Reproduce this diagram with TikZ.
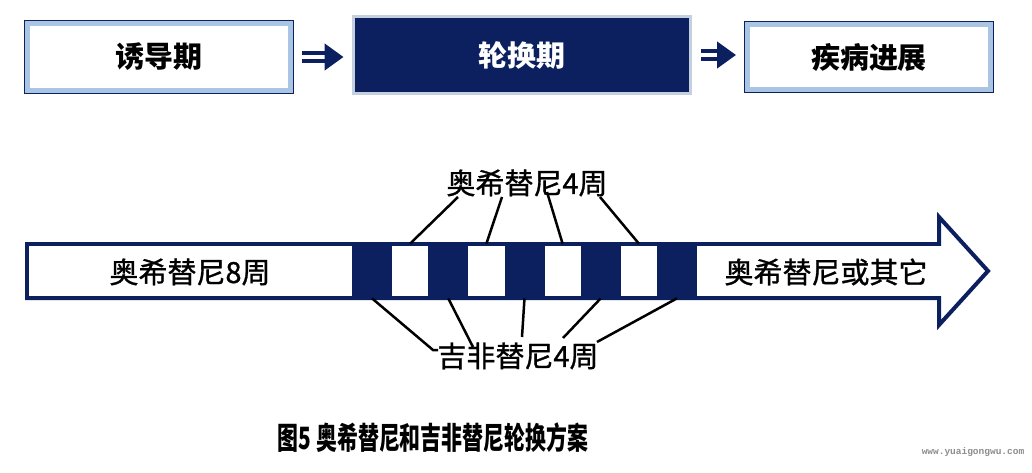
\documentclass[tikz,border=0pt]{standalone}
\usepackage{fontspec}
\usepackage{graphicx}
\usepackage{xcolor}
\usepackage{tikz}
\usetikzlibrary{arrows.meta,positioning,calc}
\newfontfamily\cjk{Noto Sans CJK SC}
\newfontfamily\cjklab[FakeBold=1]{Noto Sans CJK SC}
\newfontfamily\wmfont{Liberation Mono}
\definecolor{navy}{RGB}{12,32,96}
\definecolor{bandblue}{RGB}{170,197,228}
\definecolor{rimgray}{RGB}{196,208,224}

\begin{document}
\begin{tikzpicture}[
  x=0.02cm, y=-0.02cm,
  stage/.style={fill=white, draw=bandblue, line width=0.1cm, preaction={draw=navy, line width=0.13cm}, inner sep=0pt, font=\cjk\bfseries\fontsize{16.5}{18}\selectfont},
  activestage/.style={fill=navy, draw=rimgray, line width=0.06cm, text=white, inner sep=0pt, font=\cjk\bfseries\fontsize{16.5}{18}\selectfont},
  flow/.style={draw=navy, line width=0.09cm, double=white, double distance=0.07cm, shorten <=0.18cm, shorten >=0.17cm, -{Triangle[length=0.38cm, width=0.52cm]}},
  gblock/.style={fill=navy, minimum width=0.8cm, minimum height=1.08cm, inner sep=0pt},
  oblock/.style={minimum width=0.725cm, minimum height=1.08cm, inner sep=0pt},
  lab/.style={inner sep=0pt, font=\cjklab\fontsize{16.5}{18}\selectfont},
  lead/.style={draw=black, line width=0.05cm}
]
\useasboundingbox (0,0) rectangle (1032,473);
% three phases
\node[stage, minimum width=5.28cm, minimum height=1.36cm] (induct) at (159,57) {诱导期};
\node[activestage, minimum width=6.74cm, minimum height=1.56cm] (rotate) at (522,55) {轮换期};
\node[stage, minimum width=4.88cm, minimum height=1.32cm] (progress) at (869,57) {疾病进展};
\draw[flow] (induct.east) -- (induct.east -| rotate.west);
\draw[flow] (rotate.east) -- (rotate.east -| progress.west);
% timeline arrow
\draw[navy, line width=0.08cm, fill=white, miter limit=10]
  (27,244) -- (939,244) -- (939,217) -- (988,271) -- (939,325) -- (939,298) -- (27,298) -- cycle;
\node[gblock] (g1) at (372,271) {};
\node[oblock] (o1) at (410.1,271) {};
\node[gblock] (g2) at (448.25,271) {};
\node[oblock] (o2) at (486.4,271) {};
\node[gblock] (g3) at (524.5,271) {};
\node[oblock] (o3) at (562.6,271) {};
\node[gblock] (g4) at (600.75,271) {};
\node[oblock] (o4) at (638.9,271) {};
\node[gblock] (g5) at (677,271) {};
\node[lab] (pre) at (190,272) {奥希替尼8周};
\node[lab] (post) at (826,272) {奥希替尼或其它};
% callouts
\node[lab] (olab) at (527,183) {奥希替尼4周};
\node[lab] (glab) at (518,356) {吉非替尼4周};
\draw[lead] (o1.north) -- ($(olab.center)+(-69,14)$);
\draw[lead] (o2.north) -- ($(olab.center)+(-25,14)$);
\draw[lead] (o3.north) -- ($(olab.center)+(20,9)$);
\draw[lead] (o4.north) -- ($(olab.center)+(73,14)$);
\draw[lead] (g1.south) -- ($(glab.center)+(-85,-6)$) -- ($(glab.center)+(-80,-6)$);
\draw[lead] (g2.south) -- ($(glab.center)+(-45,-9)$);
\draw[lead] (g3.south) -- ($(glab.center)+(4,-19)$);
\draw[lead] (g4.south) -- ($(glab.center)+(45,-18)$);
\draw[lead] (g5.south) -- ($(glab.center)+(79,-14)$);
% caption
\node[inner sep=0pt] (caption) at (433,438) {\scalebox{0.68}[1]{\cjk\bfseries\fontsize{17.5}{19}\selectfont 图5 奥希替尼和吉非替尼轮换方案}};
\node[inner sep=0pt, text=black!45, font=\wmfont\bfseries\fontsize{5.4}{6}\selectfont] (mark) at (973,452) {www.yuaigongwu.com};
\end{tikzpicture}
\end{document}
